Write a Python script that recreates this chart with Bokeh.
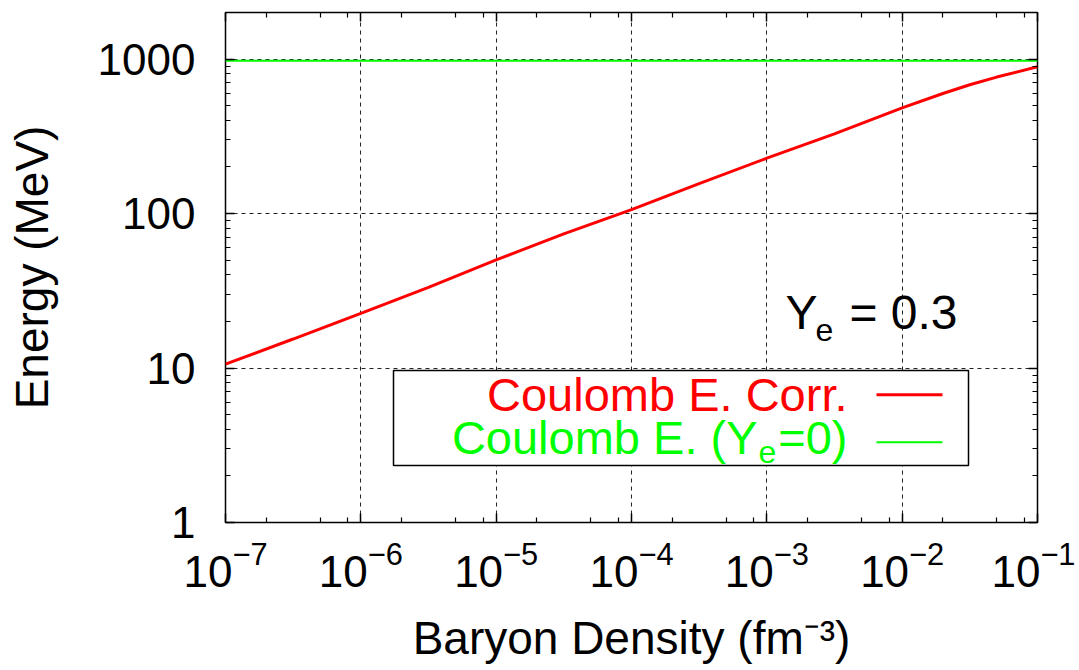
import math
from bokeh.plotting import figure
from bokeh.models import (LogAxis, FixedTicker, PrintfTickFormatter, Label,
                          BoxAnnotation, Range1d, LogScale, Grid)
from bokeh.embed import file_html
from bokeh.resources import INLINE

# ---------------- data ----------------
density = [1e-7, 3.16e-7, 1e-6, 3.16e-6, 1e-5, 3.16e-5, 1e-4, 3.16e-4,
           1e-3, 3.16e-3, 1e-2, 2e-2, 3.16e-2, 5e-2, 1e-1]
coulomb_corr = [10.6, 15.4, 22.6, 33.3, 50.1, 73.8, 106, 156,
                228, 328, 483, 598, 681, 764, 890]
coulomb_ye0 = [975, 975, 975, 975, 975, 975, 975, 975,
               975, 975, 975, 975, 975, 975, 975]

x_major = [1e-7, 1e-6, 1e-5, 1e-4, 1e-3, 1e-2, 1e-1]
x_minor = [m * d for d in [1e-7, 1e-6, 1e-5, 1e-4, 1e-3, 1e-2] for m in (2, 5, 8)]
y_major = [1, 10, 100, 1000]
y_minor = [m * d for d in [1, 10, 100, 1000] for m in range(2, 10)]

series_labels = ["Coulomb E. Corr.", "Coulomb E. (Y", "e", "=0)"]
x_title = "Baryon Density (fm\u207b\u00b3)"
y_title = "Energy (MeV)"
FONT = "Liberation Sans"

W, H = 1075, 668
p = figure(width=W, height=H, x_axis_type=None, y_axis_type=None,
           x_range=Range1d(1e-7, 1e-1), y_range=Range1d(1, 2000),
           output_backend="svg", toolbar_location=None,
           min_border_left=225, min_border_right=38,
           min_border_top=12, min_border_bottom=146)
p.x_scale = LogScale()
p.y_scale = LogScale()

p.outline_line_color = "black"
p.outline_line_width = 1.5
p.background_fill_color = "white"
p.border_fill_color = "white"

xt = FixedTicker(ticks=x_major, minor_ticks=x_minor)
yt = FixedTicker(ticks=y_major, minor_ticks=y_minor)

def style_axis(ax, show_labels, fs="44px", standoff=12):
    ax.axis_line_color = None
    ax.major_tick_in = 9
    ax.major_tick_out = 0
    ax.minor_tick_in = 5
    ax.minor_tick_out = 0
    ax.major_tick_line_color = "black"
    ax.minor_tick_line_color = "black"
    ax.major_tick_line_width = 1.5
    ax.minor_tick_line_width = 1.2
    ax.major_label_text_font = FONT
    ax.axis_label_text_font = FONT
    ax.axis_label_text_font_size = "46px"
    ax.axis_label_text_font_style = "normal"
    ax.axis_label_text_color = "black"
    if show_labels:
        ax.major_label_text_color = "black"
        ax.major_label_text_font_size = fs
        ax.major_label_standoff = standoff
    else:
        ax.major_label_text_alpha = 0
        ax.major_label_text_font_size = "1px"
        ax.major_label_standoff = 0

xb = LogAxis(ticker=xt, axis_label=x_title)
style_axis(xb, True, standoff=18)
xb.axis_label_standoff = 22
p.add_layout(xb, "below")
xa = LogAxis(ticker=xt, formatter=PrintfTickFormatter(format=" "))
style_axis(xa, False)
p.add_layout(xa, "above")

yl = LogAxis(ticker=yt, formatter=PrintfTickFormatter(format="%d"),
             axis_label=y_title)
style_axis(yl, True, standoff=30)
yl.axis_label_standoff = 37
p.add_layout(yl, "left")
yr = LogAxis(ticker=yt, formatter=PrintfTickFormatter(format=" "))
style_axis(yr, False)
p.add_layout(yr, "right")

gx = Grid(dimension=0, ticker=xt, grid_line_color="#222222",
          grid_line_dash="4 4", grid_line_width=1)
gy = Grid(dimension=1, ticker=yt, grid_line_color="#222222",
          grid_line_dash="4 4", grid_line_width=1)
p.add_layout(gx)
p.add_layout(gy)

p.line(density, coulomb_ye0, line_color="#00ff00", line_width=2)
p.line(density, coulomb_corr, line_color="#ff0000", line_width=3)

# ---------------- legend (manual, label left / sample right) ----------------
p.add_layout(BoxAnnotation(left=168, right=743, bottom=57, top=152,
                           left_units="screen", right_units="screen",
                           bottom_units="screen", top_units="screen",
                           fill_color="white", fill_alpha=1.0,
                           line_color="black", line_alpha=1.0, line_width=1.5))

def lab(text, x, y, size, color="black", align="left", angle=0.0):
    p.add_layout(Label(x=x, y=y, x_units="screen", y_units="screen",
                       text=text, text_font=FONT, text_font_size=size,
                       text_color=color, text_align=align,
                       text_baseline="alphabetic", angle=angle))

lab(series_labels[0], 622, 128, "47px", "#ff0000", "right")
lab(series_labels[1], 532, 85, "47px", "#00ff00", "right")
lab(series_labels[2], 533, 71, "32px", "#00ff00", "left")
lab(series_labels[3], 622, 85, "47px", "#00ff00", "right")

p.add_layout(BoxAnnotation(left=651, right=717, bottom=126.2, top=129.2,
                           left_units="screen", right_units="screen",
                           bottom_units="screen", top_units="screen",
                           fill_color="#ff0000", fill_alpha=1.0, line_color=None))
p.add_layout(BoxAnnotation(left=651, right=717, bottom=79.3, top=81.3,
                           left_units="screen", right_units="screen",
                           bottom_units="screen", top_units="screen",
                           fill_color="#00ff00", fill_alpha=1.0, line_color=None))

# Y_e = 0.3
lab("Y", 560, 210, "48px")
lab("e", 590, 193, "32px")
lab("= 0.3", 732, 210, "48px", "black", "right")

open("out.html", "w").write(file_html(p, INLINE))
